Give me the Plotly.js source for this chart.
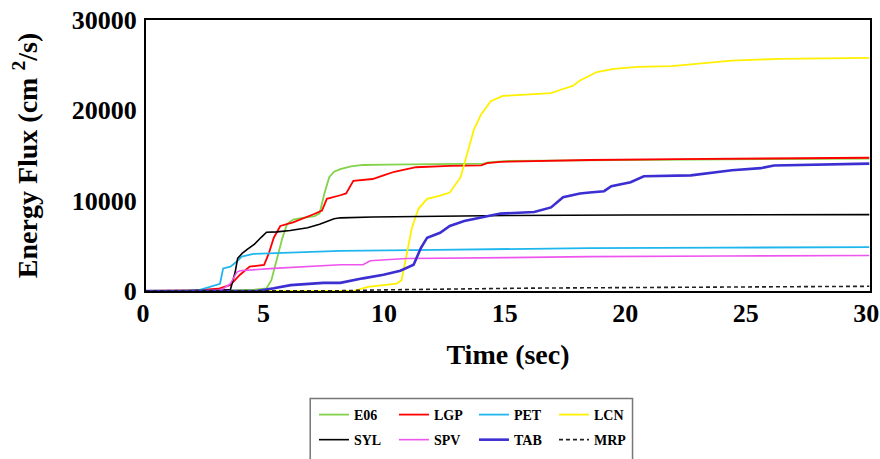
<!DOCTYPE html>
<html>
<head>
<meta charset="utf-8">
<script src="https://cdn.plot.ly/plotly-3.0.1.min.js"></script>
<style>html,body{margin:0;padding:0;background:#fff;}#chart{width:880px;height:459px;}</style>
</head>
<body>
<div id="chart"></div>
<script>
// Series names (legend order)
const seriesNames = ["E06", "LGP", "PET", "LCN", "SYL", "SPV", "TAB", "MRP"];

// E06
const e06_t = [0, 1, 3, 4.5, 5.0, 5.2, 5.43, 5.65, 5.85, 6.1, 6.5, 7.0, 7.2, 7.4, 7.6, 7.8, 8.06, 8.5, 9.0, 9.5, 10, 12, 14, 14.2, 15, 18, 22, 26, 30];
const e06_v = [0, 0, 50, 150, 300, 1200, 3600, 5800, 7400, 7900, 8100, 8300, 8600, 10800, 12600, 13200, 13500, 13800, 13950, 14000, 14000, 14050, 14100, 14250, 14400, 14450, 14550, 14600, 14650];
// LGP
const lgp_t = [0, 1, 2, 3, 3.5, 3.9, 4.3, 4.9, 5.1, 5.3, 5.57, 6.1, 6.5, 6.95, 7.3, 7.5, 8.06, 8.3, 8.6, 9.4, 9.85, 10.3, 11.2, 12.6, 13.9, 14.15, 14.7, 18.4, 22, 26, 30];
const lgp_v = [0, 0, 80, 250, 670, 1800, 2700, 2900, 4200, 5900, 7200, 7600, 8000, 8500, 8900, 10200, 10600, 10800, 12200, 12400, 12800, 13200, 13700, 13850, 13900, 14150, 14300, 14500, 14600, 14700, 14750];
// PET
const pet_t = [0, 1, 1.8, 2.2, 2.66, 3.07, 3.2, 3.5, 3.77, 3.97, 4.45, 5.3, 8.06, 12, 18.4, 24, 30];
const pet_v = [0, 0, 30, 100, 450, 800, 2500, 2700, 3260, 3800, 4100, 4200, 4450, 4550, 4750, 4800, 4850];
// LCN
const lcn_t = [0, 8.6, 9.2, 10.4, 10.6, 10.8, 11.03, 11.3, 11.66, 12.2, 12.6, 13.05, 13.3, 13.6, 13.9, 14.3, 14.8, 16.8, 17.2, 17.7, 18.0, 18.4, 18.7, 19.4, 20.4, 21.8, 24.3, 26.3, 30];
const lcn_v = [0, 0, 450, 820, 1200, 4000, 7000, 9100, 10200, 10560, 10900, 12600, 14860, 17860, 19550, 21000, 21600, 21900, 22280, 22700, 23300, 23850, 24240, 24600, 24800, 24900, 25500, 25700, 25800];
// SYL
const syl_t = [0, 1, 2, 3, 3.5, 3.7, 3.8, 4.0, 4.2, 4.5, 4.8, 5.0, 5.43, 5.98, 6.7, 7.2, 7.8, 8.06, 9.4, 12, 15, 20, 25, 30];
const syl_v = [0, 0, 30, 80, 150, 2100, 3600, 4200, 4600, 5200, 6000, 6500, 6550, 6700, 7000, 7400, 8000, 8100, 8200, 8300, 8350, 8420, 8450, 8450];
// SPV
const spv_t = [0, 2, 3.0, 3.2, 3.5, 3.77, 3.9, 5.3, 8.06, 9.0, 9.3, 10.8, 15, 18.4, 24, 30];
const spv_v = [0, 0, 100, 250, 800, 2100, 2250, 2500, 2900, 2900, 3350, 3600, 3700, 3800, 3870, 3930];
// TAB
const tab_t = [0, 3, 4.6, 5.3, 6, 7.35, 8.06, 9.0, 9.85, 10.55, 11.1, 11.4, 11.66, 12.2, 12.6, 13.2, 13.9, 14.7, 16.1, 16.8, 17.3, 18.0, 18.4, 19.0, 19.3, 20.1, 20.65, 22.6, 24.3, 25.5, 26.05, 30];
const tab_v = [0, 0, 0, 300, 650, 900, 900, 1400, 1800, 2250, 2900, 4750, 5900, 6450, 7200, 7750, 8100, 8570, 8750, 9250, 10370, 10800, 10900, 11050, 11600, 12050, 12700, 12800, 13370, 13600, 13900, 14100];
// MRP
const mrp_t = [0, 5, 8, 10, 13, 16, 20, 25, 30];
const mrp_v = [0, 0, 30, 130, 250, 320, 380, 450, 520];

const xTicks = [0, 5, 10, 15, 20, 25, 30];
const yTicks = [0, 10000, 20000, 30000];

const colors = ["#84d14a", "#ff0000", "#1fb6ee", "#fff000", "#000000", "#ee55ee", "#3b2fd2", "#222222"];
const widths = [1.8, 1.8, 1.8, 1.8, 1.6, 1.6, 2.6, 1.6];
const xs = [e06_t, lgp_t, pet_t, lcn_t, syl_t, spv_t, tab_t, mrp_t];
const ys = [e06_v, lgp_v, pet_v, lcn_v, syl_v, spv_v, tab_v, mrp_v];

const traces = seriesNames.map((n, i) => ({
  type: "scatter", mode: "lines", name: n, x: xs[i], y: ys[i],
  line: {color: colors[i], width: widths[i], dash: n === "MRP" ? "4px,3px" : "solid"},
  legend: i < 4 ? "legend" : "legend2"
}));

const fontFam = "Liberation Serif, Times New Roman, serif";
const legendCommon = {
  orientation: "h", xanchor: "left", yanchor: "top", x: 0.232,
  font: {family: fontFam, size: 14, color: "#000", weight: "bold"},
  bgcolor: "rgba(0,0,0,0)", borderwidth: 0, entrywidth: 35, itemclick: false
};

const layout = {
  width: 880, height: 459,
  margin: {l: 146, r: 10, t: 20, b: 168, autoexpand: false},
  paper_bgcolor: "#fff", plot_bgcolor: "#fff",
  font: {family: fontFam, color: "#000"},
  showlegend: true,
  xaxis: {
    range: [0, 30.03], tickvals: xTicks, ticktext: xTicks.map(String),
    showgrid: false, zeroline: false, showline: true, mirror: true,
    linecolor: "#000", linewidth: 2, ticks: "", ticklabelstandoff: -2,
    ticklabelshift: -3, ticklabeloverflow: "allow",
    tickfont: {family: fontFam, size: 26, weight: "bold"},
    title: {text: "Time (sec)", font: {family: fontFam, size: 28, weight: "bold"}, standoff: 17},
    automargin: false
  },
  yaxis: {
    range: [0, 30000], tickvals: yTicks, ticktext: yTicks.map(String),
    showgrid: false, zeroline: false, showline: true, mirror: true,
    linecolor: "#000", linewidth: 2, ticks: "", ticklabelstandoff: 2,
    ticklabeloverflow: "allow",
    tickfont: {family: fontFam, size: 26, weight: "bold"},
    title: {text: "Energy Flux (cm <sup>2</sup>/s)", font: {family: fontFam, size: 28, weight: "bold"}, standoff: 26},
    automargin: false
  },
  legend: Object.assign({}, legendCommon, {y: -0.3985}),
  legend2: Object.assign({}, legendCommon, {y: -0.491}),
  shapes: [{
    type: "rect", xref: "paper", yref: "paper",
    x0: 0.2268, x1: 0.672, y0: -0.7, y1: -0.3963,
    line: {color: "#777", width: 1.5}, fillcolor: "rgba(0,0,0,0)", layer: "below"
  }]
};

Plotly.newPlot("chart", traces, layout, {staticPlot: true, displayModeBar: false});
</script>
</body>
</html>
